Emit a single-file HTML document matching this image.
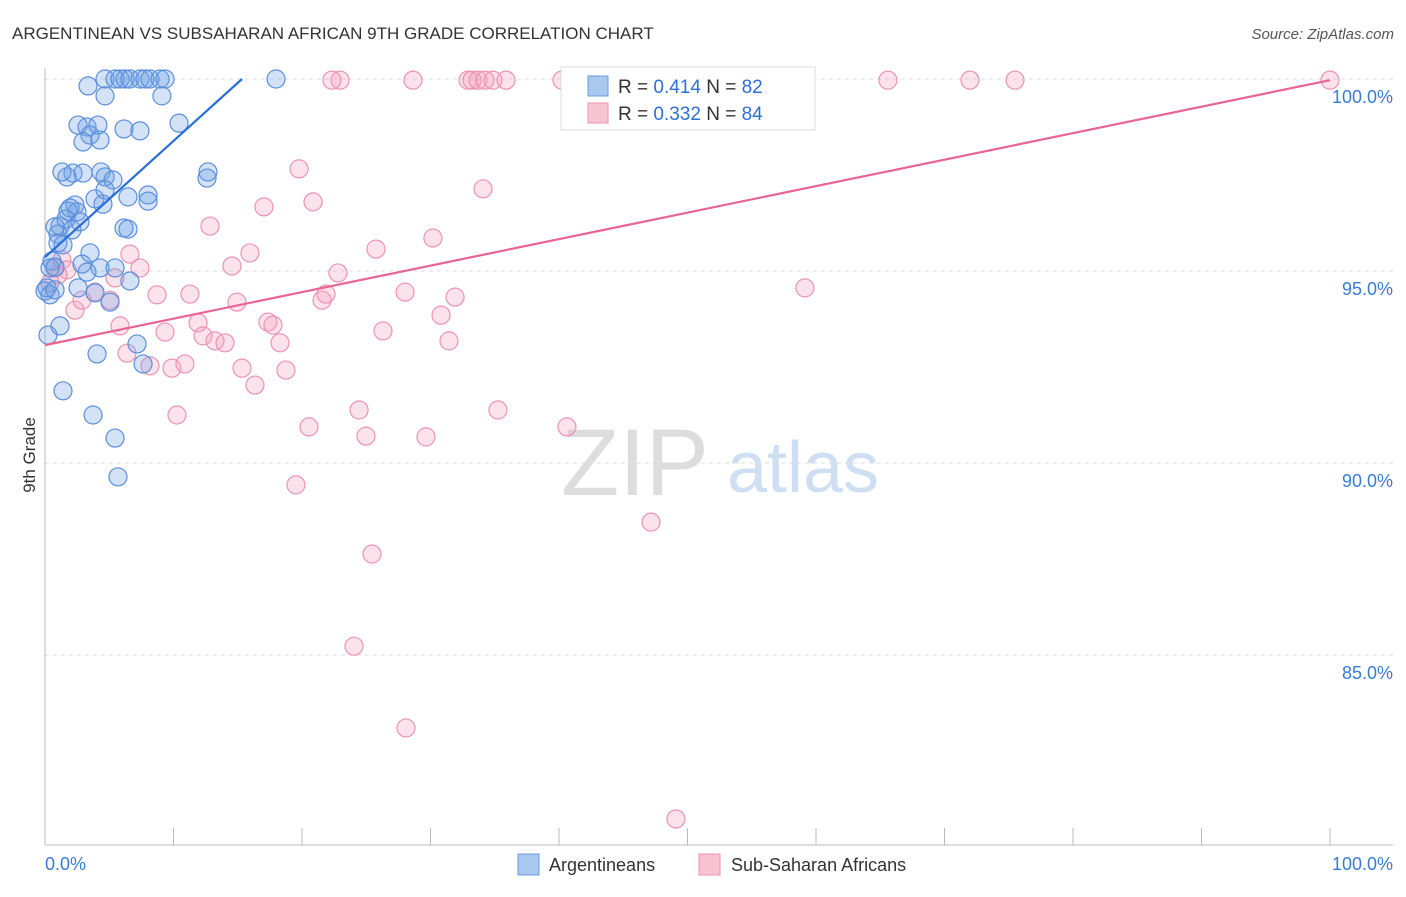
<!DOCTYPE html>
<html><head><meta charset="utf-8"><style>
body{margin:0;background:#fff;font-family:"Liberation Sans",sans-serif;}
svg text{font-family:"Liberation Sans",sans-serif;}
</style></head><body>
<svg id="chart" width="1406" height="892">
<text x="12" y="39" font-size="17" fill="#333">ARGENTINEAN VS SUBSAHARAN AFRICAN 9TH GRADE CORRELATION CHART</text>
<text x="1394" y="39" font-size="15" fill="#555" font-style="italic" text-anchor="end">Source: ZipAtlas.com</text>
<text x="35" y="455" font-size="17" fill="#333" transform="rotate(-90 35 455)" text-anchor="middle">9th Grade</text>
<text x="635" y="495" font-size="95" fill="#ddd" font-family="Liberation Serif" text-anchor="middle">ZIP</text>
<text x="803" y="492" font-size="72" fill="#cfdff3" text-anchor="middle">atlas</text>
<g id="grid"></g><g id="pts"></g><g id="trend"></g>
<g>
<rect x="561" y="67" width="254" height="63" fill="#fff" stroke="#ddd"/>
<rect x="588" y="76" width="20" height="20" fill="#a9c8f0" stroke="#6a9de0"/>
<rect x="588" y="103" width="20" height="20" fill="#f8c3d3" stroke="#ec93ae"/>
<text x="618" y="93" font-size="19" fill="#333">R = <tspan fill="#2f6fd6">0.414</tspan>   N = <tspan fill="#2f6fd6">82</tspan></text>
<text x="618" y="120" font-size="19" fill="#333">R = <tspan fill="#2f6fd6">0.332</tspan>   N = <tspan fill="#2f6fd6">84</tspan></text>
</g>
<g>
<rect x="518" y="854" width="21" height="21" fill="#a9c8f0" stroke="#6a9de0"/>
<text x="549" y="871" font-size="18" fill="#333">Argentineans</text>
<rect x="699" y="854" width="21" height="21" fill="#f8c3d3" stroke="#ec93ae"/>
<text x="731" y="871" font-size="18" fill="#333">Sub-Saharan Africans</text>
</g>
<text x="45" y="870" font-size="18" fill="#3a7bd5">0.0%</text>
<text x="1393" y="870" font-size="18" fill="#3a7bd5" text-anchor="end">100.0%</text>
</svg>
<script>
const yTicks=[100,95,90,85];
const blueX=[3.35,4.67,5.45,5.84,6.23,6.61,7.39,7.78,8.17,8.95,9.34,4.67,9.1,17.98,2.57,3.27,4.12,3.5,2.96,4.28,6.15,7.39,10.43,1.71,2.18,2.96,4.36,4.67,5.29,1.32,12.68,12.61,3.89,4.67,4.51,6.46,8.02,8.02,2.33,2.49,1.79,1.17,1.01,2.1,1.63,2.72,1.95,0.78,6.15,6.46,3.5,1.01,1.4,0.54,0.39,0.78,2.88,4.28,5.45,3.27,6.61,0,0.39,0.16,2.57,3.89,5.06,0.23,1.17,4.05,7.16,7.63,1.4,3.74,5.45,5.68,0.78];
const blueY=[99.82,100,100,100,100,100,100,100,100,100,100,99.56,99.56,100,98.8,98.75,98.8,98.54,98.36,98.41,98.7,98.65,98.85,97.45,97.55,97.55,97.58,97.45,97.37,97.58,97.58,97.42,96.88,97.11,96.74,96.93,96.98,96.82,96.72,96.54,96.56,96.17,95.96,96.07,96.35,96.28,96.64,96.15,96.12,96.09,95.47,95.73,95.68,95.26,95.08,95.1,95.18,95.08,95.08,94.97,94.74,94.48,94.38,94.56,94.56,94.43,94.19,93.33,93.57,92.84,93.1,92.58,91.88,91.25,90.65,89.64,94.51];
const pinkX=[0.78,1.32,1.71,1.01,2.33,2.88,0.39,3.89,5.06,5.45,6.61,7.39,5.84,6.38,8.17,8.72,9.34,9.88,10.27,10.89,11.28,11.91,12.3,12.84,13.23,14.01,14.55,14.94,15.33,15.95,16.34,17.04,17.35,17.74,18.29,18.75,19.77,19.53,20.54,20.86,21.56,21.87,22.8,22.96,22.33,24.44,24.98,25.45,24.05,25.76,26.3,28.02,28.09,28.64,29.65,30.19,30.82,31.44,31.91,32.92,33.23,33.7,34.24,34.86,35.25,34.09,35.88,40.23,40.62,41.71,42.57,47.16,49.1,54.55,59.14,65.6,71.98,75.49,100,46.3,50.97];
const pinkY=[95.08,95.29,95.03,94.9,93.98,94.24,94.69,94.45,94.24,94.82,95.44,95.08,93.57,92.86,92.53,94.38,93.41,92.47,91.25,92.58,94.4,93.65,93.31,96.17,93.18,93.13,95.13,94.19,92.47,95.47,92.03,96.67,93.67,93.59,93.13,92.42,97.66,89.43,90.94,96.8,94.24,94.4,94.95,99.97,99.97,91.38,90.7,87.63,85.23,95.57,93.44,94.45,83.1,99.97,90.68,95.86,93.85,93.18,94.32,99.97,99.97,99.97,99.97,99.97,91.38,97.14,99.97,99.97,90.94,99.14,99.97,88.46,80.73,99.97,94.56,99.97,99.97,99.97,99.97,99.97,99.97];
const blueTrend=[0,95.36,15.33,100];
const pinkTrend=[0,93.07,100,99.97];
const X=v=>45+v*12.85, Y=v=>79+(100-v)*38.4;
const NS='http://www.w3.org/2000/svg';
function mk(t,a,p){const e=document.createElementNS(NS,t);for(const k in a)e.setAttribute(k,a[k]);p.appendChild(e);return e;}
const grid=document.getElementById('grid');
yTicks.forEach(t=>{
 const l=mk('line',{x1:45,x2:1393,y1:Y(t),y2:Y(t),stroke:'#ddd','stroke-dasharray':'4,4'},grid);
 
 
 const tx=mk('text',{x:1393,y:Y(t)+24,'font-size':18,fill:'#3a7bd5','text-anchor':'end'},grid);
 tx.textContent=t.toFixed(1)+'%';
 
 
});
const ax=mk('line',{x1:45,x2:1393,y1:845,y2:845,stroke:'#bbb'},grid);


const ay=mk('line',{x1:45,x2:45,y1:68,y2:845,stroke:'#bbb'},grid);


for(let i=0;i<=10;i++){const t=mk('line',{x1:X(i*10),x2:X(i*10),y1:828,y2:845,stroke:'#bbb'},grid);
 
 }
const pts=document.getElementById('pts');
pinkX.forEach((x,i)=>{const c=mk('circle',{cx:X(x),cy:Y(pinkY[i]),r:9,fill:'rgba(244,160,188,0.3)',stroke:'#eb94b0','stroke-width':1.2},pts);
 
 });
blueX.forEach((x,i)=>{const c=mk('circle',{cx:X(x),cy:Y(blueY[i]),r:9,fill:'rgba(110,160,230,0.3)',stroke:'#5b8fdc','stroke-width':1.2},pts);
 
 });
const tr=document.getElementById('trend');
const bl=mk('line',{x1:X(blueTrend[0]),y1:Y(blueTrend[1]),x2:X(blueTrend[2]),y2:Y(blueTrend[3]),stroke:'#2a6fd6','stroke-width':2.2},tr);


const pl=mk('line',{x1:X(pinkTrend[0]),y1:Y(pinkTrend[1]),x2:X(pinkTrend[2]),y2:Y(pinkTrend[3]),stroke:'#e8658f','stroke-width':2.2},tr);


</script>
</body></html>
